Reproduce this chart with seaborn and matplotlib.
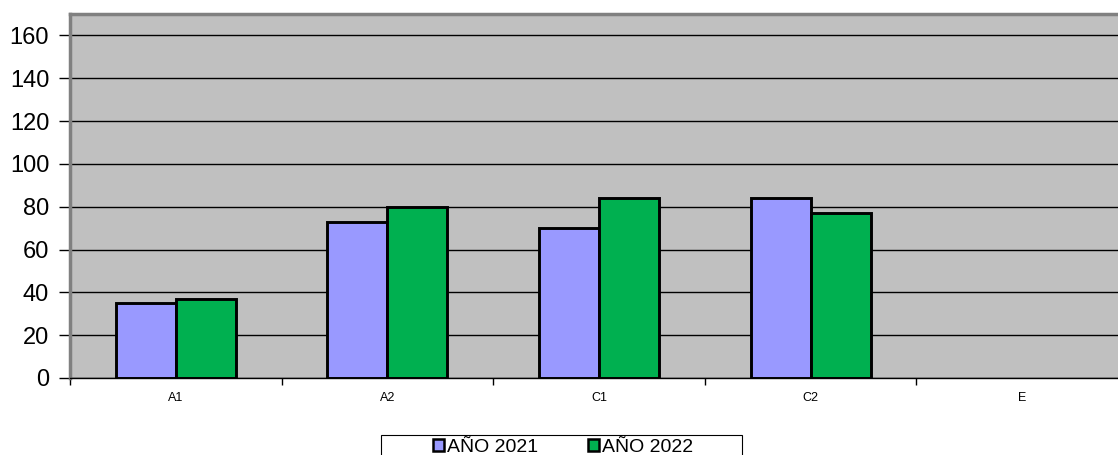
import numpy as np
import pandas as pd
import seaborn as sns
import matplotlib.pyplot as plt
from matplotlib.patches import Patch, Rectangle

# Chart values (E has no data)
categories = ['A1', 'A2', 'C1', 'C2', 'E']
anio_2021 = [35, 73, 70, 84, np.nan]
anio_2022 = [37, 80, 84, 77, np.nan]
series_names = ['AÑO 2021', 'AÑO 2022']
colors = ['#9999FF', '#00B050']

df = pd.DataFrame({
    'cat': categories * 2,
    'value': anio_2021 + anio_2022,
    'serie': [series_names[0]] * len(categories) + [series_names[1]] * len(categories),
})

sns.set_style('white')
plt.rcParams['font.family'] = ['Liberation Sans', 'DejaVu Sans']
plt.rcParams['text.color'] = 'black'
plt.rcParams['xtick.color'] = 'black'
plt.rcParams['ytick.color'] = 'black'

W, H = 1118, 455
fig = plt.figure(figsize=(W / 100, H / 100), dpi=100)
ax = fig.add_axes([70 / W, 1 - 378 / H, 1058 / W, 364 / H])
ax.set_facecolor('#C0C0C0')

sns.barplot(data=df, x='cat', y='value', hue='serie', order=categories,
            hue_order=series_names, palette=colors, saturation=1, width=0.567,
            edgecolor='black', linewidth=2.1, legend=False, ax=ax)

ax.set_ylim(0, 170)
ax.set_xlim(-0.5, len(categories) - 0.5)
ax.set_yticks(range(0, 161, 20))
ax.yaxis.grid(True, color='black', linewidth=1)
ax.set_axisbelow(True)
ax.set_xlabel('')
ax.set_ylabel('')

ax.tick_params(axis='y', labelsize=17, length=8, width=1,
               direction='out', left=True, pad=7)
ax.set_xticks([i + 0.5 for i in range(-1, len(categories))], minor=False)
ax.set_xticklabels([])
ax.set_xticks(range(len(categories)), minor=True)
ax.set_xticklabels(categories, minor=True, fontsize=9)
ax.tick_params(axis='x', which='major', length=5, width=1,
               direction='out', bottom=True)
ax.tick_params(axis='x', which='minor', length=0, pad=10)

for side in ['left', 'top']:
    ax.spines[side].set_color('#808080')
    ax.spines[side].set_linewidth(2.5)
ax.spines['bottom'].set_color('black')
ax.spines['bottom'].set_linewidth(1)
ax.spines['right'].set_visible(False)

# legend box (runs off the bottom edge as in the reference)
fig.patches.append(Rectangle((381 / W, -0.05), 361 / W, 0.05 + (H - 435) / H,
                             transform=fig.transFigure, facecolor='white',
                             edgecolor='black', linewidth=0.8, zorder=0))
handles = [Patch(facecolor=c, edgecolor='black', linewidth=1.8) for c in colors]
fig.legend(handles, series_names, loc='upper center',
           bbox_to_anchor=(563 / W, 1 - 436 / H), ncol=2,
           fontsize=14, frameon=False,
           handlelength=0.55, handleheight=0.55, handletextpad=0.15,
           columnspacing=2.6, borderpad=0.15, borderaxespad=0)

fig.savefig('out.png', dpi=100)
